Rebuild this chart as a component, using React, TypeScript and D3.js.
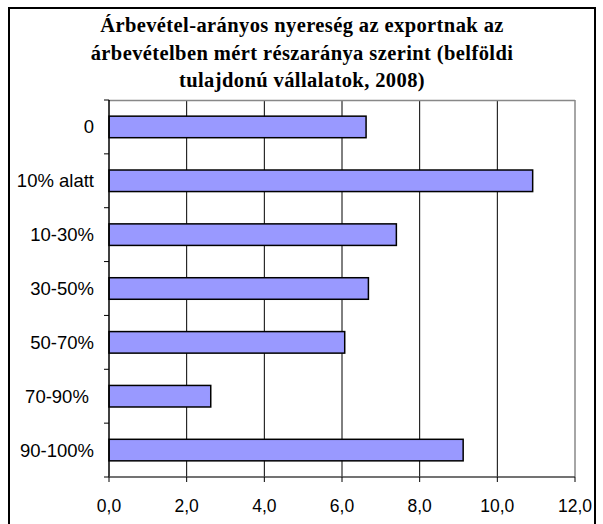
import React from 'react'
import * as d3 from 'd3'

const categories = ['0', '10% alatt', '10-30%', '30-50%', '50-70%', '70-90%\u00a0', '90-100%']
const values = [6.62, 10.91, 7.4, 6.68, 6.07, 2.62, 9.12]
const xTicks = [0, 2, 4, 6, 8, 10, 12]
const titleLines = [
  'Árbevétel-arányos nyereség az exportnak az',
  'árbevételben mért részaránya szerint (belföldi',
  'tulajdonú vállalatok, 2008)',
]

const App = () => {
  const width = 603
  const height = 524
  const left = 109
  const right = 575
  const top = 100
  const bottom = 477

  const x = d3.scaleLinear().domain([0, 12]).range([left, right])
  const y = d3.scaleBand().domain(categories).range([top, bottom]).paddingInner(0.6).paddingOuter(0.3)
  const step = (bottom - top) / categories.length
  const catTicks = d3.range(categories.length + 1).map(i => top + i * step)
  const fmt = (v: number) => v.toFixed(1).replace('.', ',')

  return (
    <svg width={width} height={height} style={{ position: 'absolute', left: 0, top: 0 }}>
      <rect x={0} y={0} width={width} height={height} fill="#fff" />
      <rect x={9} y={8} width={586} height={540} fill="none" stroke="#000" strokeWidth={2} />

      {titleLines.map((t, i) => (
        <text key={i} x={302} y={32 + i * 27.5} textAnchor="middle"
          fontFamily="'Liberation Serif', 'Times New Roman', serif" fontWeight="bold" fontSize={20.5}
          letterSpacing={0.4}>
          {t}
        </text>
      ))}

      {/* gridlines */}
      {xTicks.slice(1, -1).map(t => (
        <line key={t} x1={x(t)} x2={x(t)} y1={top} y2={bottom} stroke="#000" strokeWidth={1} />
      ))}
      <line x1={left} x2={right} y1={top + 0.5} y2={top + 0.5} stroke="#888" strokeWidth={1.5} />
      <line x1={right} x2={right} y1={top} y2={bottom} stroke="#888" strokeWidth={1.5} />

      {/* bars */}
      {values.map((v, i) => (
        <rect key={i} x={x(0)} y={y(categories[i])} width={x(v) - x(0)} height={y.bandwidth()}
          fill="#9999ff" stroke="#000" strokeWidth={1.5} />
      ))}

      {/* y axis */}
      <line x1={left} x2={left} y1={top} y2={bottom} stroke="#000" strokeWidth={1.5} />
      {catTicks.map((t, i) => (
        <line key={i} x1={left - 5} x2={left} y1={t} y2={t} stroke="#000" strokeWidth={1} />
      ))}
      {categories.map(c => (
        <text key={c} x={94} y={(y(c) as number) + y.bandwidth() / 2} dy="0.35em" textAnchor="end"
          fontFamily="'Liberation Sans', Arial, sans-serif" fontSize={18.5}>
          {c}
        </text>
      ))}

      {/* x axis */}
      <line x1={left} x2={right} y1={bottom} y2={bottom} stroke="#444" strokeWidth={1.5} />
      {xTicks.map(t => (
        <g key={t}>
          <line x1={x(t)} x2={x(t)} y1={bottom} y2={bottom + 5} stroke="#000" strokeWidth={1} />
          <text x={x(t)} y={512} textAnchor="middle"
            fontFamily="'Liberation Sans', Arial, sans-serif" fontSize={17.5}>
            {fmt(t)}
          </text>
        </g>
      ))}
    </svg>
  )
}

export default App
